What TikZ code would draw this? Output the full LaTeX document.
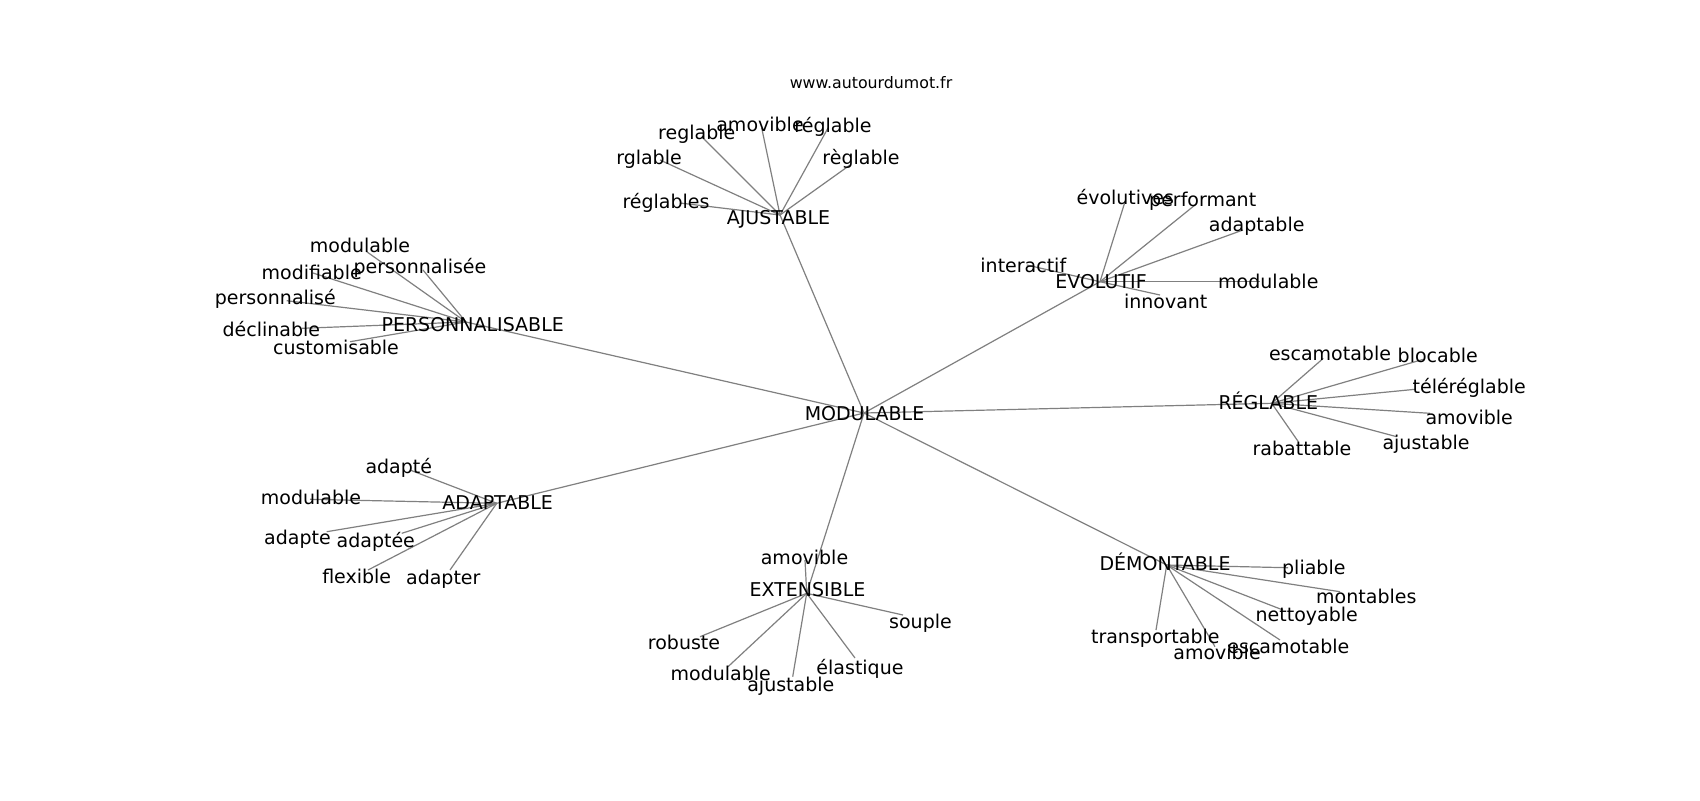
\documentclass[tikz,border=0pt]{standalone}
\usepackage{fontspec}
\setmainfont{DejaVu Sans}
\tikzset{
  edge/.style={draw=black!50, line width=0.6pt},
  lab/.style={inner sep=0pt, outer sep=0pt, text height=0.76em, text depth=0.24em, yshift=-1.4pt, font=\fontsize{9.5}{11}\selectfont, text=black},
  ttl/.style={inner sep=0pt, font=\fontsize{7.9}{9.5}\selectfont, text=black}
}
\begin{document}
\begin{tikzpicture}[x=0.5pt, y=-0.5pt]
\useasboundingbox[fill=white] (0,0) rectangle (1700,800);
% graph node positions
\coordinate (mod) at (864,413);
\coordinate (aju) at (780,215);
\coordinate (aju1) at (701.7,136.7);
\coordinate (aju2) at (761.7,128);
\coordinate (aju3) at (828,128);
\coordinate (aju4) at (660,160);
\coordinate (aju5) at (850,165);
\coordinate (aju6) at (680,203);
\coordinate (per) at (466,322);
\coordinate (per1) at (366.7,251.7);
\coordinate (per2) at (423,270);
\coordinate (per3) at (313,273);
\coordinate (per4) at (286.7,300.7);
\coordinate (per5) at (302,328.3);
\coordinate (per6) at (350,341.7);
\coordinate (evo) at (1100,281.7);
\coordinate (evo1) at (1125,201.7);
\coordinate (evo2) at (1195,205);
\coordinate (evo3) at (1243,230);
\coordinate (evo4) at (1026.7,265);
\coordinate (evo5) at (1260,281.7);
\coordinate (evo6) at (1160,295);
\coordinate (reg) at (1271.7,403.3);
\coordinate (reg1) at (1323.3,358.3);
\coordinate (reg2) at (1423.3,359.3);
\coordinate (reg3) at (1415,389.3);
\coordinate (reg4) at (1430,413.3);
\coordinate (reg5) at (1396.7,436.7);
\coordinate (reg6) at (1298.3,441.7);
\coordinate (ada) at (496.7,503.3);
\coordinate (ada1) at (410,470);
\coordinate (ada2) at (310,499.3);
\coordinate (ada3) at (326.7,531.7);
\coordinate (ada4) at (401.7,533.3);
\coordinate (ada5) at (368,570);
\coordinate (ada6) at (450,570);
\coordinate (ext) at (806.7,593.3);
\coordinate (ext1) at (805,560);
\coordinate (ext2) at (903,615);
\coordinate (ext3) at (700,636.7);
\coordinate (ext4) at (728,666.7);
\coordinate (ext5) at (792.7,676.7);
\coordinate (ext6) at (855,658);
\coordinate (dem) at (1166.7,565);
\coordinate (dem1) at (1288,567.7);
\coordinate (dem2) at (1340,591.7);
\coordinate (dem3) at (1283,610);
\coordinate (dem4) at (1156,630);
\coordinate (dem5) at (1215,646.7);
\coordinate (dem6) at (1280,640);
% edges
\foreach \h in {aju,per,evo,reg,ada,ext,dem}{\draw[edge] (mod) -- (\h);}
\foreach \h in {aju,per,evo,reg,ada,ext,dem}{
  \foreach \i in {1,...,6}{\draw[edge] (\h) -- (\h\i);}
}
% labels
\node[ttl] (title) at (871,83) {www.autourdumot.fr};
\node[lab] (Lmod) at (864.5,412) {MODULABLE};
\node[lab] (Laju) at (778.5,216) {AJUSTABLE};
\node[lab] (Laju1) at (696.7,131) {reglable};
\node[lab] (Laju2) at (760,123) {amovible};
\node[lab] (Laju3) at (833,124) {réglable};
\node[lab] (Laju4) at (649,156) {rglable};
\node[lab] (Laju5) at (861,156) {règlable};
\node[lab] (Laju6) at (666,200) {réglables};
\node[lab] (Lper) at (472.7,323) {PERSONNALISABLE};
\node[lab] (Lper1) at (360,244.3) {modulable};
\node[lab] (Lper2) at (420,265) {personnalisée};
\node[lab] (Lper3) at (311.7,271) {modifiable};
\node[lab] (Lper4) at (275.3,296.7) {personnalisé};
\node[lab] (Lper5) at (271.3,328.3) {déclinable};
\node[lab] (Lper6) at (336,346.7) {customisable};
\node[lab] (Levo) at (1101,280) {EVOLUTIF};
\node[lab] (Levo1) at (1125.3,196.7) {évolutives};
\node[lab] (Levo2) at (1202.7,198.3) {performant};
\node[lab] (Levo3) at (1256.7,223.3) {adaptable};
\node[lab] (Levo4) at (1023.3,264) {interactif};
\node[lab] (Levo5) at (1268.3,280) {modulable};
\node[lab] (Levo6) at (1165.7,300) {innovant};
\node[lab] (Lreg) at (1268.3,401.7) {RÉGLABLE};
\node[lab] (Lreg1) at (1330,352.7) {escamotable};
\node[lab] (Lreg2) at (1437.7,354) {blocable};
\node[lab] (Lreg3) at (1469.2,385) {téléréglable};
\node[lab] (Lreg4) at (1469.2,416) {amovible};
\node[lab] (Lreg5) at (1426,441.7) {ajustable};
\node[lab] (Lreg6) at (1302,447.3) {rabattable};
\node[lab] (Lada) at (497.7,501.7) {ADAPTABLE};
\node[lab] (Lada1) at (398.8,465) {adapté};
\node[lab] (Lada2) at (311,496.7) {modulable};
\node[lab] (Lada3) at (297.5,536.7) {adapte};
\node[lab] (Lada4) at (375.8,539.3) {adaptée};
\node[lab] (Lada5) at (356.7,575) {flexible};
\node[lab] (Lada6) at (443.3,576.7) {adapter};
\node[lab] (Lext) at (807.5,588.3) {EXTENSIBLE};
\node[lab] (Lext1) at (804.5,556) {amovible};
\node[lab] (Lext2) at (920.5,620) {souple};
\node[lab] (Lext3) at (684,641.7) {robuste};
\node[lab] (Lext4) at (720.7,672.7) {modulable};
\node[lab] (Lext5) at (790.8,683.3) {ajustable};
\node[lab] (Lext6) at (860,666.7) {élastique};
\node[lab] (Ldem) at (1165,562.7) {DÉMONTABLE};
\node[lab] (Ldem1) at (1313.8,566.7) {pliable};
\node[lab] (Ldem2) at (1366.3,595.7) {montables};
\node[lab] (Ldem3) at (1306.7,613) {nettoyable};
\node[lab] (Ldem4) at (1155.3,635) {transportable};
\node[lab] (Ldem5) at (1217,651.7) {amovible};
\node[lab] (Ldem6) at (1288.3,645) {escamotable};
\end{tikzpicture}
\end{document}
